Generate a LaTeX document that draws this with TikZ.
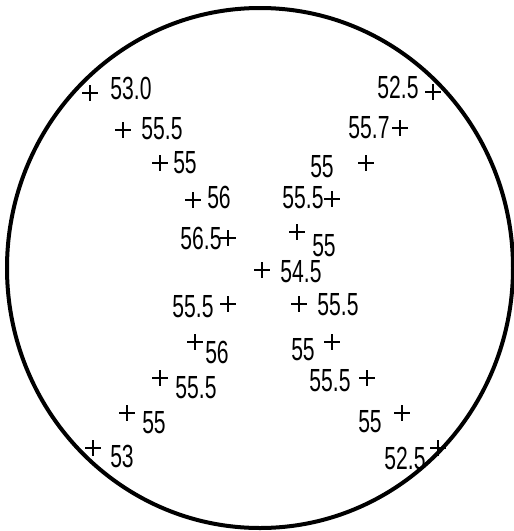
\documentclass[tikz,border=0pt]{standalone}
\usepackage{fontspec}
\setmainfont[FakeStretch=0.66]{Liberation Sans}

\begin{document}
\begin{tikzpicture}[x=1pt, y=-1pt,
  borde/.style={line width=4pt},
  cruz/.style={line width=1.3pt},
  valor/.style={inner sep=0pt, font=\fontsize{32}{32}\selectfont}
]
\useasboundingbox (0,0) rectangle (514,531);

% contorno de la probeta
\draw[borde] (260,268) ellipse [x radius=253, y radius=260];

% puntos de medida: cruz (x,y) y valor (lx,ly)
\foreach \x/\y/\lx/\ly/\t [count=\i] in {
   90/93/131/88/53.0,   123/130/162/129/55.5,  160/163/185/163/55,
  193/200/219/197/56,   228/238/201/238/56.5,  433/92/398/87/52.5,
  400/128/369/128/55.7, 366/163/322/167/55,    332/199/303/198/55.5,
  297/232/324/246/55,   262/270/301/272/54.5,  228/304/193/307/55.5,
  299/304/338/305/55.5, 195/342/217/352/56,    332/342/303/350/55,
  160/378/196/388/55.5, 367/378/330/381/55.5,  127/413/154/423/55,
  402/413/370/422/55,   93/448/122/456/53,     438/448/405/458/52.5}
{
  \draw[cruz] (\x-8,\y) -- (\x+8,\y) (\x,\y-8) -- (\x,\y+8);
  \node[valor] (v\i) at (\lx,\ly) {\t};
}
\end{tikzpicture}
\end{document}
